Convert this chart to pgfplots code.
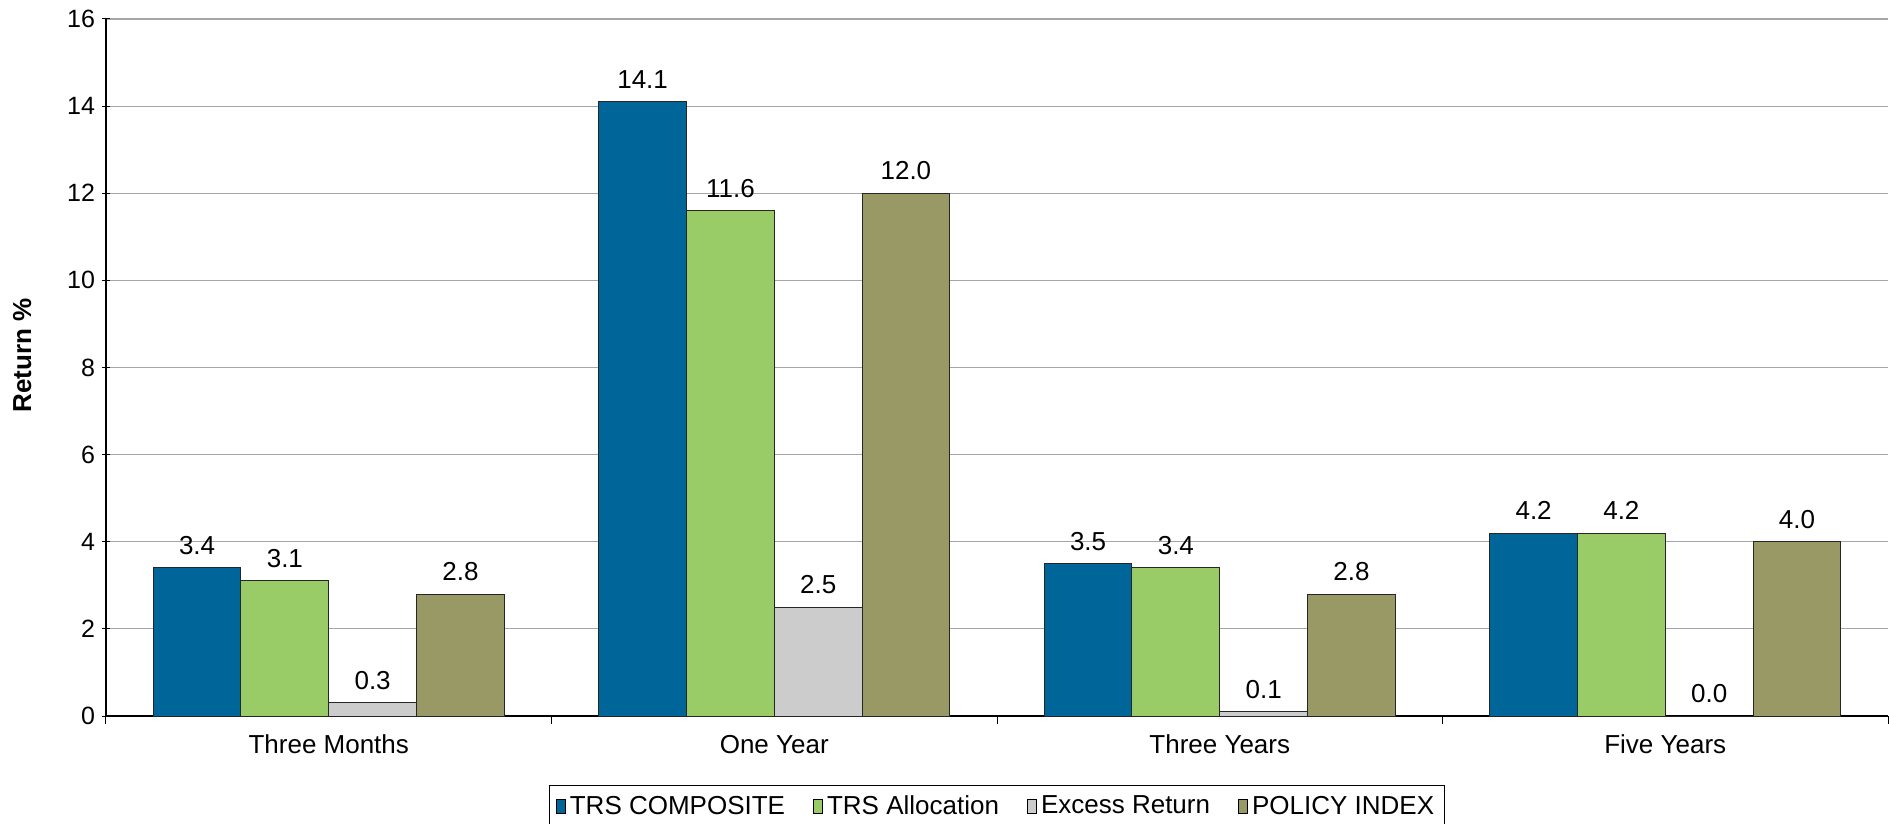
\documentclass[border=0pt]{standalone}
\usepackage{pgfplots}
\pgfplotsset{compat=1.18}
\usepackage{fontspec}
\setmainfont{Liberation Sans}
\definecolor{c1}{RGB}{0,102,153}
\definecolor{c2}{RGB}{153,204,102}
\definecolor{c3}{RGB}{204,204,204}
\definecolor{c4}{RGB}{153,153,102}
\begin{document}
\begin{tikzpicture}
\begin{axis}[
  at={(0,0)}, anchor=south west,
  width=891pt, height=348.5pt, scale only axis,
  xmin=-0.5, xmax=3.5, ymin=0, ymax=16,
  ytick={0,2,...,16},
  xtick={0,1,2,3},
  xticklabels={Three Months, One Year, Three Years, Five Years},
  minor xtick={-0.5,0.5,1.5,2.5,3.5},
  major x tick style={draw=none},
  minor tick length=4pt, major tick length=4pt,
  tick align=outside,
  tick style={black, line width=0.5pt},
  axis x line=bottom, axis y line=left,
  axis line style={-, black, line width=0.6pt},
  ymajorgrids, grid style={black!35, line width=0.6pt},
  /pgf/number format/assume math mode=true,
  ticklabel style={font=\fontsize{12.5}{14}\selectfont},
  xticklabel style={font=\fontsize{13}{15}\selectfont, yshift=-2pt},
  ylabel={Return \%},
  every axis y label/.style={at={(axis description cs:-0.047,0.517)}, rotate=90, anchor=center,
    font=\fontsize{13}{15}\selectfont\bfseries},
  ybar=0pt, bar width=0.197,
  every axis plot/.append style={draw=black!85, line width=0.5pt},
  nodes near coords={\pgfmathprintnumber[fixed,fixed zerofill,precision=1,assume math mode=true]{\pgfplotspointmeta}},
  every node near coord/.append style={font=\fontsize{13}{15}\selectfont, black, yshift=3pt},
  legend columns=4,
  legend style={at={(axis description cs:0.5,-0.099)}, anchor=north, draw=black, line width=0.5pt,
    font=\fontsize{13}{15}\selectfont, inner xsep=3pt, inner ysep=3pt,
    /tikz/every even column/.append style={column sep=12pt}},
  legend image code/.code={\draw[#1, draw=black, line width=0.5pt] (0pt,-3.3pt) rectangle (4.5pt,3.3pt);},
]
\addplot[fill=c1] coordinates {(0,3.4) (1,14.1) (2,3.5) (3,4.2)};
\addplot[fill=c2] coordinates {(0,3.1) (1,11.6) (2,3.4) (3,4.2)};
\addplot[fill=c3] coordinates {(0,0.3) (1,2.5) (2,0.1) (3,0.0)};
\addplot[fill=c4] coordinates {(0,2.8) (1,12.0) (2,2.8) (3,4.0)};
\legend{TRS COMPOSITE, TRS Allocation, Excess Return, POLICY INDEX}
\end{axis}
\pgfresetboundingbox
\path[use as bounding box] (-53pt,-54pt) rectangle (891.5pt,358pt);
\end{tikzpicture}
\end{document}
